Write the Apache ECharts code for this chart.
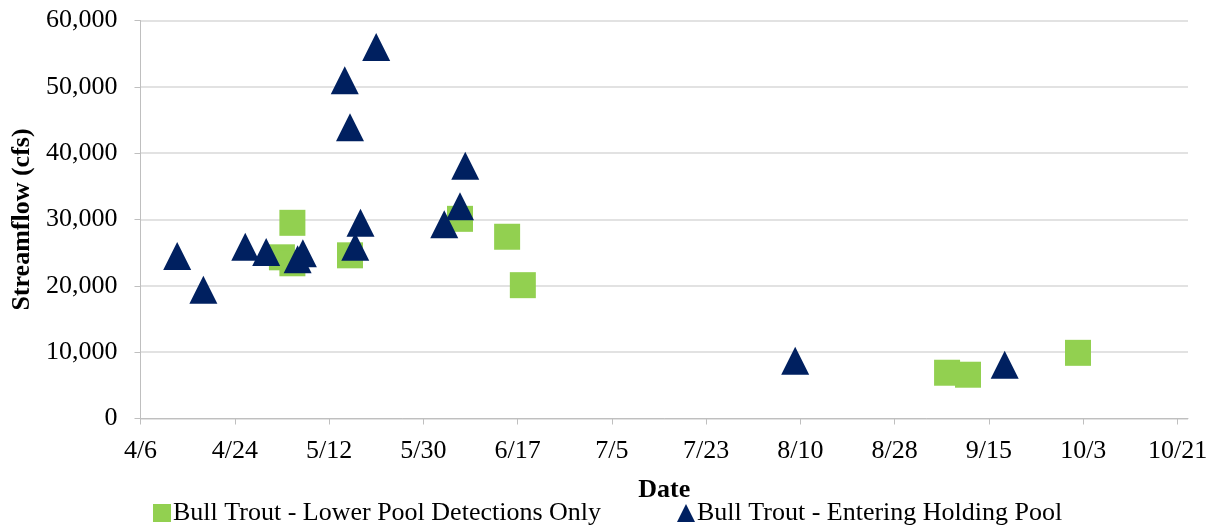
<!DOCTYPE html>
<html>
<head>
<meta charset="utf-8">
<script src="https://cdn.jsdelivr.net/npm/echarts@6/dist/echarts.min.js"></script>
<style>
html,body{margin:0;padding:0;background:#fff;}
#chart{width:1213px;height:527px;}
</style>
</head>
<body>
<div id="chart"></div>
<script>
// Axis origin date (4/6) and tick labels (every 18 days)
const startDate = [4, 6];
const tickLabels = ['4/6','4/24','5/12','5/30','6/17','7/5','7/23','8/10','8/28','9/15','10/3','10/21'];
const yTicks = [0, 10000, 20000, 30000, 40000, 50000, 60000];

// Bull Trout - Lower Pool Detections Only
const lowerDates = ['5/5','5/3','5/5','5/16','6/6','6/15','6/18','9/7','9/11','10/2'];
const lowerFlow  = [29500, 24300, 23400, 24600, 30100, 27400, 20100, 6900, 6600, 9900];

// Bull Trout - Entering Holding Pool
const enterDates = ['4/13','4/18','4/26','4/30','5/6','5/7','5/15','5/21','5/16','5/18','5/17','6/3','6/6','6/7','8/9','9/18'];
const enterFlow  = [24500, 19400, 25900, 25100, 24000, 24900, 51000, 56000, 43900, 29500, 25900, 29300, 32000, 38100, 8700, 8100];

const monthStart = {4:0, 5:30, 6:61, 7:91, 8:122, 9:153, 10:183};
function dayOffset(md) {
  const [m, d] = md.split('/').map(Number);
  return monthStart[m] + d - (monthStart[startDate[0]] + startDate[1]);
}
const lowerData = lowerDates.map((d, i) => [dayOffset(d), lowerFlow[i]]);
const enterData = enterDates.map((d, i) => [dayOffset(d), enterFlow[i]]);

const font = '"Liberation Serif", "Times New Roman", serif';
const chart = echarts.init(document.getElementById('chart'), null, {renderer: 'canvas'});
chart.setOption({
  animation: false,
  backgroundColor: '#ffffff',
  textStyle: {fontFamily: font, color: '#000'},
  grid: {left: 140.5, right: 25, top: 20.5, bottom: 108.5, containLabel: false},
  legend: {
    top: 495,
    left: 148,
    itemGap: 76,
    itemWidth: 18,
    itemHeight: 18,
    textStyle: {fontFamily: font, fontSize: 26, color: '#000', padding: [0, 0, 0, -3]},
    data: [
      {name: 'Bull Trout - Lower Pool Detections Only', icon: 'rect'},
      {name: 'Bull Trout - Entering Holding Pool', icon: 'triangle'}
    ]
  },
  xAxis: {
    type: 'value',
    min: 0,
    max: 200,
    interval: 18,
    name: 'Date',
    nameLocation: 'middle',
    nameGap: 59,
    nameTextStyle: {fontFamily: font, fontSize: 26, fontWeight: 'bold', color: '#000'},
    axisLine: {show: true, lineStyle: {color: '#bfbfbf', width: 1}},
    axisTick: {show: true, length: 6, lineStyle: {color: '#bfbfbf'}},
    splitLine: {show: false},
    axisLabel: {
      fontFamily: font, fontSize: 26, color: '#000', margin: 20,
      showMaxLabel: false,
      formatter: v => (v % 18 === 0 ? tickLabels[v / 18] : '')
    }
  },
  yAxis: {
    type: 'value',
    min: yTicks[0],
    max: yTicks[yTicks.length - 1],
    interval: 10000,
    name: 'Streamflow (cfs)',
    nameLocation: 'middle',
    nameGap: 105,
    nameTextStyle: {fontFamily: font, fontSize: 26, fontWeight: 'bold', color: '#000'},
    axisLine: {show: true, lineStyle: {color: '#bfbfbf', width: 1}},
    axisTick: {show: true, length: 6, lineStyle: {color: '#bfbfbf'}},
    splitLine: {show: true, lineStyle: {color: '#d9d9d9', width: 1.5}},
    axisLabel: {
      fontFamily: font, fontSize: 26, color: '#000', margin: 23,
      formatter: v => v.toLocaleString('en-US')
    }
  },
  series: [
    {
      name: 'Bull Trout - Lower Pool Detections Only',
      type: 'scatter',
      symbol: 'rect',
      symbolSize: 26,
      itemStyle: {color: '#92d050', opacity: 1},
      data: lowerData,
      z: 2
    },
    {
      name: 'Bull Trout - Entering Holding Pool',
      type: 'scatter',
      symbol: 'triangle',
      symbolSize: 28,
      itemStyle: {color: '#002060', opacity: 1},
      data: enterData,
      z: 3
    }
  ]
});
</script>
</body>
</html>
